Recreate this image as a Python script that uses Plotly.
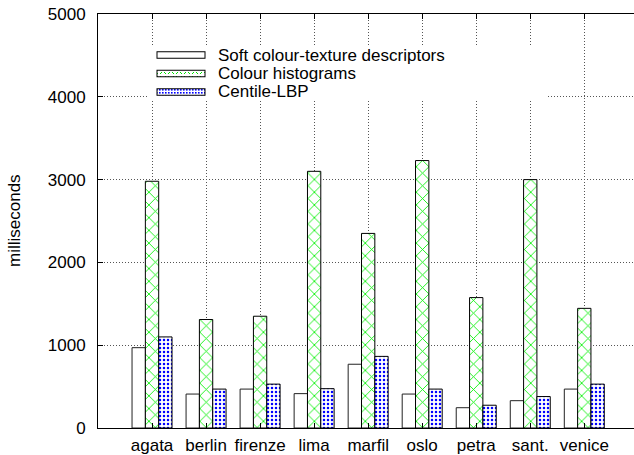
import base64
import plotly.graph_objects as go

categories = ["agata", "berlin", "firenze", "lima", "marfil", "oslo", "petra", "sant.", "venice"]
soft_ct = [970, 410, 470, 415, 770, 410, 245, 330, 470]
colour_hist = [2980, 1310, 1350, 3100, 2350, 3230, 1575, 3000, 1445]
centile_lbp = [1100, 470, 530, 475, 865, 470, 275, 380, 530]
series_names = ["Soft colour-texture descriptors", "Colour histograms", "Centile-LBP"]
y_ticks = [0, 1000, 2000, 3000, 4000, 5000]

FONT = "Liberation Sans, Arial, Helvetica, sans-serif"
W, H = 634, 455
ML, MR, MT, MB = 98, 0, 14, 27

styles = [
    dict(color="white", line=dict(color="#222", width=1)),
    dict(color="white", line=dict(color="black", width=1),
         pattern=dict(shape="x", fgcolor="#00f000", bgcolor="white", size=9, solidity=0.18, fillmode="replace")),
    dict(color="white", line=dict(color="black", width=1),
         pattern=dict(shape=".", fgcolor="#0000ff", bgcolor="white", size=4, solidity=0.3, fillmode="replace")),
]

xpos = list(range(len(categories)))
fig = go.Figure()
for name, vals, st in zip(series_names, [soft_ct, colour_hist, centile_lbp], styles):
    fig.add_trace(go.Bar(x=xpos, y=vals, name=name, marker=st, showlegend=False))

plot_w = W - ML - MR
plot_h = H - MT - MB
def px_x(p):
    return (p - ML) / plot_w
def px_y(p):
    return (H - MB - p) / plot_h

# legend box drawn as an SVG image (white background + patterned swatches)
BOX_L, BOX_R, BOX_T, BOX_B = 147, 547, 47, 100
bw, bh = BOX_R - BOX_L, BOX_B - BOX_T
row_px = [55, 73.5, 92]
sw_x0, sw_x1, sw_h = 157 - BOX_L, 205 - BOX_L, 6.5
fills = ["white", "url(#pg)", "url(#pb)"]
rects = "".join(
    f'<rect x="{sw_x0}" y="{(p - BOX_T) - sw_h / 2}" width="{sw_x1 - sw_x0}" height="{sw_h}" '
    f'fill="{f}" stroke="black" stroke-width="1"/>'
    for p, f in zip(row_px, fills)
)
svg = (
    f'<svg xmlns="http://www.w3.org/2000/svg" width="{bw}" height="{bh}" viewBox="0 0 {bw} {bh}">'
    '<defs>'
    '<pattern id="pg" width="8" height="8" patternUnits="userSpaceOnUse">'
    '<rect width="8" height="8" fill="white"/>'
    '<path d="M1,1L3,3M5,5L7,7M7,1L5,3M3,5L1,7" stroke="#00e000" stroke-width="1"/></pattern>'
    '<pattern id="pb" width="3" height="3" patternUnits="userSpaceOnUse">'
    '<rect width="3" height="3" fill="white"/><rect width="1.6" height="1.6" fill="#0000ff"/></pattern>'
    '</defs>'
    f'<rect width="{bw}" height="{bh}" fill="white"/>' + rects + '</svg>'
)
src = "data:image/svg+xml;base64," + base64.b64encode(svg.encode()).decode()
fig.add_layout_image(source=src, xref="paper", yref="paper", x=px_x(BOX_L), y=px_y(BOX_T),
                     sizex=bw / plot_w, sizey=bh / plot_h, xanchor="left", yanchor="top",
                     sizing="stretch", layer="above")

for p, name in zip(row_px, series_names):
    fig.add_annotation(text=name, xref="paper", yref="paper", x=px_x(216), y=px_y(p),
                       xanchor="left", yanchor="middle", showarrow=False,
                       font=dict(family=FONT, size=17, color="black"))

fig.add_annotation(text="milliseconds", xref="paper", yref="paper", x=px_x(14), y=0.5,
                   textangle=-90, showarrow=False, xanchor="center", yanchor="middle",
                   font=dict(family=FONT, size=17, color="black"))

grid = dict(showgrid=True, gridcolor="#555", gridwidth=1, griddash="1px,2px")
fig.update_layout(
    width=W, height=H,
    margin=dict(l=ML, r=MR, t=MT, b=MB, autoexpand=False),
    paper_bgcolor="white", plot_bgcolor="white",
    barmode="group", bargap=0.26, bargroupgap=0,
    font=dict(family=FONT, size=17, color="black"),
    xaxis=dict(range=[-1, 8.92], tickvals=xpos, ticktext=categories, automargin=False,
               showline=True, linecolor="black", linewidth=1, mirror="ticks",
               ticks="inside", ticklen=5, tickcolor="black", ticklabelstandoff=2,
               zeroline=False, **grid),
    yaxis=dict(range=[0, 5000], tickvals=y_ticks, showline=True, linecolor="black", linewidth=1,
               ticks="inside", ticklen=5, tickcolor="black", ticklabelstandoff=8, automargin=False,
               zeroline=False, **grid),
)

fig.write_html("out.html", config={"displayModeBar": False},
               post_script="document.body.style.margin='0px';")
